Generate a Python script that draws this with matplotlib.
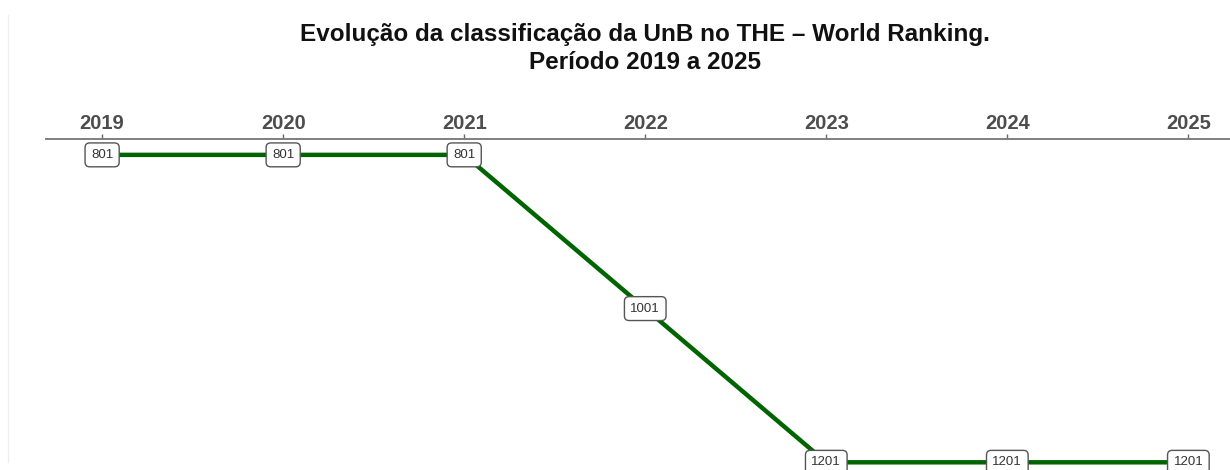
import matplotlib
matplotlib.use("Agg")
import matplotlib.pyplot as plt
from matplotlib.lines import Line2D

# THE World Ranking position of UnB
years = [2019, 2020, 2021, 2022, 2023, 2024, 2025]
ranking = [801, 801, 801, 1001, 1201, 1201, 1201]
labels = ["801", "801", "801", "1001", "1201", "1201", "1201"]

plt.rcParams["font.family"] = ["Liberation Sans", "DejaVu Sans"]

fig = plt.figure(figsize=(12.3, 4.7), dpi=100)
ax = fig.add_axes([0.0374, 0.0, 0.9626, 0.7032])

ax.plot(years, ranking, color="#006400", linewidth=3.2, solid_capstyle="butt", zorder=2)
for x, y, t in zip(years, ranking, labels):
    ax.text(x, y, t, ha="center", va="center", fontsize=9.5, color="#333333", zorder=3,
            clip_on=False,
            bbox=dict(boxstyle="round,pad=0.45,rounding_size=0.35", fc="white",
                      ec="#555555", lw=1.0))

ax.set_xlim(2018.69, 2025.23)
ax.set_ylim(1211, 781)
ax.set_xticks(years)
ax.set_xticklabels([str(y) for y in years], fontsize=14.5, fontweight="bold", color="#4d4d4d")
ax.xaxis.tick_top()
ax.tick_params(axis="x", length=3.5, width=1, color="#666666", pad=1)
ax.set_yticks([])
for side in ("left", "right", "bottom"):
    ax.spines[side].set_visible(False)
ax.spines["top"].set_color("#7f7f7f")
ax.spines["top"].set_linewidth(1.4)

# title, two centred lines
fig.text(0.524, 0.9128, "Evolução da classificação da UnB no THE – World Ranking.",
         ha="center", va="baseline", fontsize=17.5, fontweight="bold", color="#111111")
fig.text(0.524, 0.8532, "Período 2019 a 2025",
         ha="center", va="baseline", fontsize=17.5, fontweight="bold", color="#111111")

# faint frame line on the left
fig.add_artist(Line2D([8 / 1230, 8 / 1230], [1 - 15 / 470, 1 - 462 / 470],
                      color="#eeeeee", lw=1, transform=fig.transFigure))

fig.savefig("out.png", dpi=100, facecolor="white")
